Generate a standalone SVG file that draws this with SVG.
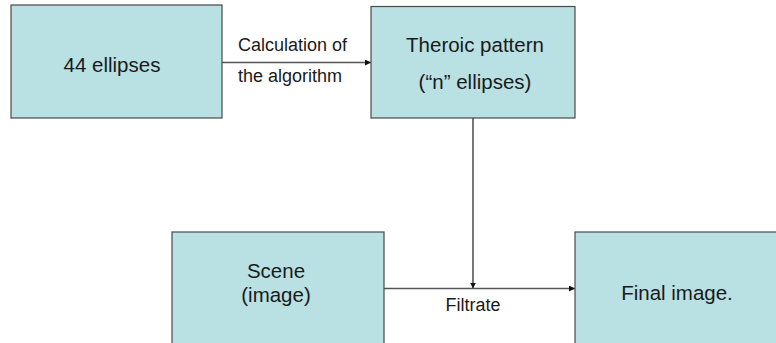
<svg xmlns="http://www.w3.org/2000/svg" width="776" height="343" viewBox="0 0 776 343">
<defs>
<style>
.box{fill:#b9e0e3;stroke:#4a4a4a;stroke-width:1.2}
.t{font-family:"Liberation Sans",Arial,sans-serif;font-size:20.5px;fill:#1a1a1a;text-anchor:middle}
.l{font-family:"Liberation Sans",Arial,sans-serif;font-size:18px;fill:#1a1a1a}
.c{fill:none;stroke:#555;stroke-width:1.6}
</style>
<marker id="ah" viewBox="0 0 10 10" refX="10" refY="5" markerWidth="6" markerHeight="6" markerUnits="userSpaceOnUse" orient="auto">
<path d="M0,0 L10,5 L0,10 z" fill="#111"/>
</marker>
</defs>
<rect width="776" height="343" fill="#fff"/>
<g id="connectors">
<line class="c" x1="222" y1="62.5" x2="371" y2="62.5" marker-end="url(#ah)"/>
<line class="c" x1="473" y1="118" x2="473" y2="288.5" marker-end="url(#ah)"/>
<line class="c" x1="384" y1="288.5" x2="575" y2="288.5" marker-end="url(#ah)"/>
<text class="l" x="238" y="51">Calculation of</text>
<text class="l" x="238" y="82">the algorithm</text>
<text class="l" x="473" y="311" text-anchor="middle">Filtrate</text>
</g>
<g id="n1">
<rect class="box" x="11" y="5" width="211" height="113"/>
<text class="t" x="112" y="72">44 ellipses</text>
</g>
<g id="n2">
<rect class="box" x="371" y="6.5" width="204" height="111.5"/>
<text class="t" x="475" y="52">Theroic pattern</text>
<text class="t" x="475" y="89">(“n” ellipses)</text>
</g>
<g id="n3">
<rect class="box" x="172" y="232" width="212" height="120"/>
<text class="t" x="276" y="278">Scene</text>
<text class="t" x="276" y="302">(image)</text>
</g>
<g id="n4">
<rect class="box" x="575" y="232" width="210" height="120"/>
<text class="t" x="677" y="300">Final image.</text>
</g>
</svg>
